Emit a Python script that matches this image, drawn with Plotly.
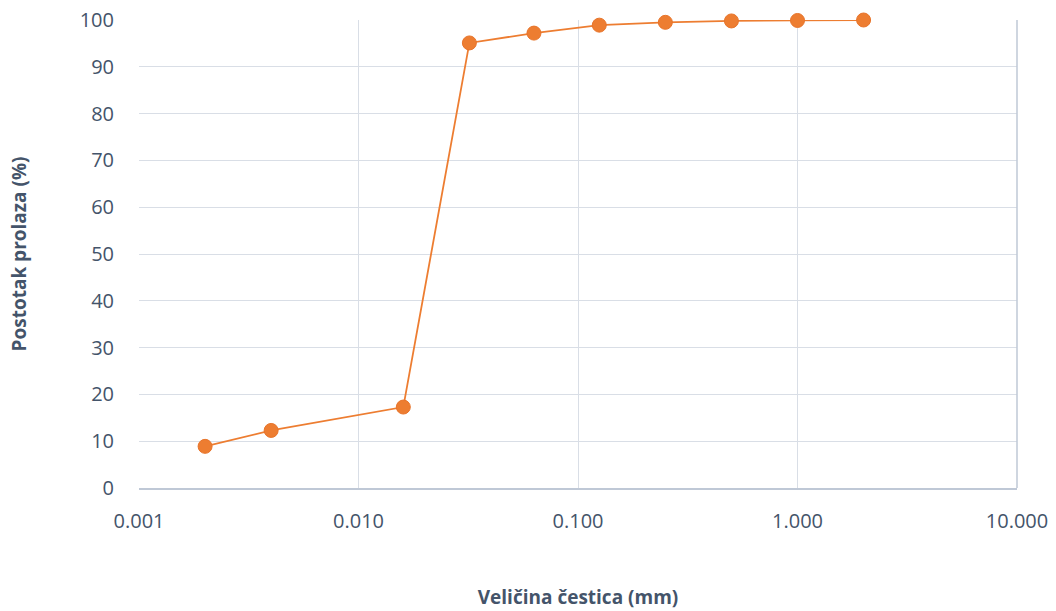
import plotly.graph_objects as go

# granulometric curve data
size_mm = [0.002, 0.004, 0.016, 0.032, 0.063, 0.125, 0.25, 0.5, 1.0, 2.0]
passing = [8.9, 12.3, 17.3, 95.1, 97.2, 98.9, 99.5, 99.8, 99.9, 100.0]

x_ticks = [0.001, 0.01, 0.1, 1, 10]
x_labels = ['0.001', '0.010', '0.100', '1.000', '10.000']
y_ticks = [0, 10, 20, 30, 40, 50, 60, 70, 80, 90, 100]

txt = '#44546A'
grid = '#D9DEE6'

fig = go.Figure()
fig.add_trace(go.Scatter(x=size_mm, y=passing, mode='lines+markers',
                         line=dict(color='#ED7D31', width=1.8),
                         marker=dict(color='#ED7D31', size=14,
                                     line=dict(color='#E8742A', width=1)),
                         showlegend=False, cliponaxis=False))

fig.update_xaxes(type='log', range=[-3, 1], tickvals=x_ticks, ticktext=x_labels,
                 showgrid=True, gridcolor=grid, gridwidth=1.3,
                 showline=True, linecolor='#BFC8D6', linewidth=1.5,
                 ticks='outside', ticklen=14, tickcolor='rgba(0,0,0,0)',
                 zeroline=False, automargin=False,
                 tickfont=dict(family='Open Sans', size=20, color=txt),
                 title=dict(text='<b>Veličina čestica (mm)</b>', standoff=58,
                            font=dict(family='Open Sans', size=19, color=txt)))
fig.update_yaxes(range=[0, 100], tickvals=y_ticks,
                 showgrid=True, gridcolor=grid, gridwidth=1.3,
                 showline=False, zeroline=False, ticks='outside',
                 ticklen=20, tickcolor='rgba(0,0,0,0)', automargin=False,
                 tickfont=dict(family='Open Sans', size=20, color=txt),
                 title=dict(text='<b>Postotak prolaza (%)</b>', standoff=48,
                            font=dict(family='Open Sans', size=19, color=txt)))

# right-hand border line
fig.add_shape(type='line', xref='paper', yref='paper', x0=1, x1=1, y0=0, y1=1,
              line=dict(color='#BFC8D6', width=1.5))

fig.update_layout(width=1056, height=611, plot_bgcolor='white', paper_bgcolor='white',
                  margin=dict(l=139, r=39, t=20, b=123))

fig.write_html("out.html", config={'displayModeBar': False},
               post_script="document.body.style.margin='0';")
